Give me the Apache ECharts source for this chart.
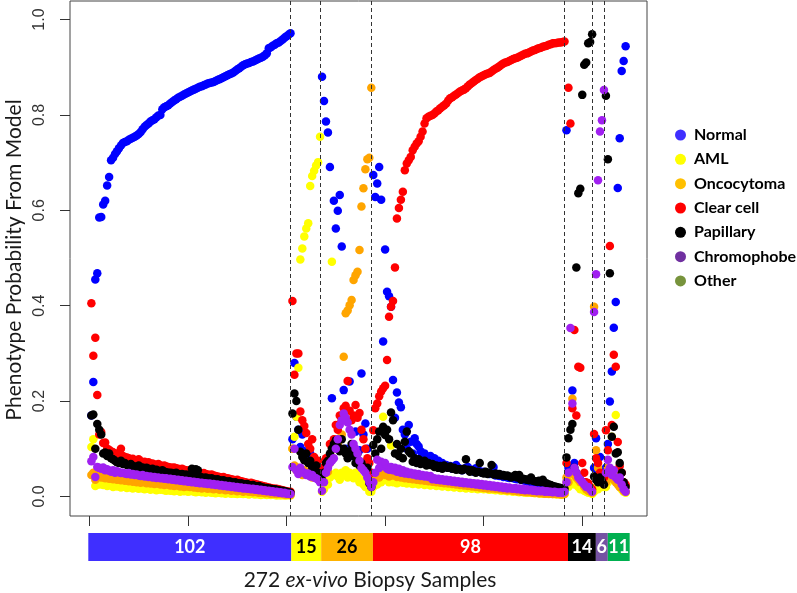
<!DOCTYPE html>
<html>
<head>
<meta charset="utf-8">
<script src="https://cdn.jsdelivr.net/npm/echarts@6/dist/echarts.min.js"></script>
<style>
html,body{margin:0;padding:0;background:#fff;}
#chart{width:797px;height:593px;}
</style>
</head>
<body>
<div id="chart"></div>
<script>
// ---- categories / groups ----
const groupNames = ['Normal','AML','Oncocytoma','Clear cell','Papillary','Chromophobe','Other'];
const groupCounts = [102,15,26,98,14,6,11];
const xTicks = [0,50,100,150,200,250];
const yTicks = [0,0.2,0.4,0.6,0.8,1.0];
const axisTitle = 'Phenotype Probability From Model';

// ---- per-sample model probabilities (272 samples, grouped by true phenotype) ----
const normal = [
 0.17,0.24,0.455,0.468,0.585,0.586,0.612,0.62,0.652,0.67,
 0.705,0.71,0.718,0.724,0.73,0.736,0.741,0.743,0.745,0.748,
 0.75,0.752,0.754,0.757,0.76,0.764,0.77,0.775,0.779,0.782,
 0.786,0.789,0.791,0.795,0.799,0.8,0.812,0.816,0.818,0.82,
 0.824,0.827,0.83,0.833,0.836,0.838,0.84,0.843,0.845,0.847,
 0.849,0.851,0.853,0.855,0.857,0.859,0.86,0.862,0.864,0.866,
 0.867,0.868,0.869,0.871,0.873,0.875,0.877,0.879,0.881,0.883,
 0.885,0.887,0.889,0.892,0.895,0.898,0.901,0.904,0.906,0.908,
 0.909,0.911,0.912,0.914,0.916,0.918,0.92,0.922,0.925,0.929,
 0.94,0.942,0.945,0.947,0.95,0.952,0.955,0.958,0.962,0.965,
 0.968,0.971,
 0.12,0.28,0.167,0.14,0.104,0.13,0.095,0.083,0.077,0.09,0.068,0.072,0.06,0.055,0.045,
 0.88,0.829,0.786,0.763,0.691,0.206,0.62,0.562,0.599,0.632,
 0.524,0.223,0.1,0.09,0.241,0.085,0.1,0.136,0.095,0.097,
 0.258,0.13,0.153,0.1,0.04,0.035,
 0.674,0.628,0.656,0.691,0.622,0.325,0.518,0.429,0.42,0.398,
 0.244,0.165,0.218,0.197,0.187,0.14,0.13,0.1,0.15,0.115,
 0.09,0.122,0.11,0.105,0.095,0.085,0.09,0.08,0.075,0.085,
 0.07,0.08,0.068,0.075,0.065,0.07,0.062,0.066,0.06,0.064,
 0.058,0.062,0.066,0.06,0.058,0.055,0.057,0.06,0.062,0.056,
 0.054,0.052,0.059,0.055,0.053,0.05,0.052,0.049,0.05,0.047,
 0.048,0.062,0.044,0.047,0.043,0.045,0.041,0.042,0.04,0.039,
 0.04,0.038,0.037,0.036,0.038,0.035,0.034,0.033,0.032,0.03,
 0.031,0.029,0.028,0.027,0.026,0.025,0.024,0.022,0.023,0.021,
 0.02,0.019,0.02,0.018,0.017,0.016,0.015,0.014,
 0.768,0.06,0.05,0.222,0.07,0.05,0.04,0.035,0.03,0.03,0.025,0.02,0.015,0.01,
 0.06,0.122,0.05,0.083,0.04,0.03,
 0.06,0.11,0.199,0.262,0.354,0.408,0.647,0.751,0.892,0.913,0.944
];
const aml = [
 0.104,0.12,0.022,0.03,0.025,0.028,0.024,0.026,0.022,0.025,
 0.023,0.02,0.024,0.021,0.023,0.019,0.022,0.02,0.018,0.021,
 0.019,0.017,0.02,0.018,0.016,0.019,0.017,0.015,0.018,0.016,
 0.014,0.017,0.015,0.013,0.016,0.014,0.015,0.013,0.012,0.014,
 0.012,0.013,0.011,0.013,0.012,0.01,0.012,0.011,0.013,0.01,
 0.011,0.012,0.01,0.009,0.011,0.01,0.009,0.01,0.008,0.01,
 0.009,0.008,0.009,0.007,0.009,0.008,0.007,0.008,0.006,0.008,
 0.007,0.006,0.007,0.006,0.005,0.007,0.006,0.005,0.006,0.005,
 0.004,0.006,0.005,0.004,0.005,0.004,0.003,0.005,0.004,0.003,
 0.004,0.003,0.004,0.003,0.002,0.003,0.002,0.003,0.002,0.002,
 0.003,0.002,
 0.1,0.125,0.167,0.27,0.497,0.52,0.545,0.562,0.573,0.651,0.672,0.683,0.694,0.701,0.754,
 0.01,0.015,0.03,0.025,0.04,0.492,0.045,0.05,0.042,0.035,
 0.05,0.045,0.055,0.04,0.05,0.045,0.038,0.05,0.042,0.03,
 0.035,0.025,0.02,0.03,0.01,0.01,
 0.02,0.03,0.025,0.035,0.03,0.167,0.04,0.035,0.03,0.107,
 0.03,0.032,0.028,0.03,0.033,0.029,0.031,0.027,0.03,0.028,
 0.026,0.029,0.027,0.025,0.028,0.026,0.024,0.027,0.025,0.023,
 0.026,0.024,0.022,0.025,0.023,0.021,0.024,0.022,0.02,0.023,
 0.021,0.019,0.022,0.02,0.018,0.021,0.019,0.017,0.02,0.018,
 0.016,0.019,0.017,0.015,0.018,0.016,0.015,0.017,0.015,0.014,
 0.016,0.014,0.013,0.015,0.013,0.012,0.014,0.012,0.011,0.013,
 0.011,0.01,0.012,0.01,0.009,0.011,0.009,0.008,0.01,0.008,
 0.009,0.008,0.007,0.008,0.007,0.006,0.007,0.006,0.006,0.005,
 0.006,0.005,0.005,0.004,0.005,0.004,0.004,0.005,
 0.03,0.02,0.035,0.04,0.025,0.03,0.02,0.015,0.02,0.012,0.01,0.008,0.01,0.005,
 0.01,0.02,0.015,0.025,0.02,0.03,
 0.02,0.03,0.04,0.125,0.05,0.171,0.03,0.02,0.015,0.01,0.008
];
const onco = [
 0.045,0.05,0.035,0.044,0.042,0.04,0.043,0.038,0.041,0.037,
 0.039,0.036,0.038,0.035,0.037,0.034,0.036,0.033,0.035,0.032,
 0.034,0.031,0.033,0.03,0.032,0.029,0.031,0.03,0.028,0.03,
 0.027,0.029,0.026,0.028,0.027,0.025,0.027,0.024,0.026,0.025,
 0.023,0.025,0.022,0.024,0.023,0.021,0.023,0.02,0.022,0.021,
 0.02,0.021,0.019,0.02,0.018,0.02,0.017,0.019,0.018,0.016,
 0.018,0.017,0.015,0.017,0.016,0.014,0.016,0.015,0.013,0.015,
 0.014,0.012,0.014,0.013,0.011,0.013,0.012,0.01,0.012,0.011,
 0.01,0.011,0.009,0.01,0.009,0.008,0.009,0.008,0.007,0.008,
 0.007,0.006,0.007,0.006,0.005,0.006,0.005,0.005,0.004,0.004,
 0.004,0.003,
 0.1,0.065,0.055,0.06,0.05,0.045,0.055,0.048,0.05,0.045,0.04,0.048,0.042,0.038,0.035,
 0.04,0.05,0.06,0.052,0.07,0.083,0.1,0.12,0.11,0.1,
 0.13,0.293,0.384,0.39,0.401,0.412,0.454,0.464,0.471,0.517,
 0.608,0.646,0.686,0.707,0.71,0.857,
 0.035,0.045,0.05,0.04,0.055,0.048,0.045,0.05,0.042,0.047,
 0.044,0.046,0.041,0.043,0.04,0.042,0.038,0.041,0.037,0.039,
 0.036,0.038,0.035,0.037,0.034,0.036,0.033,0.035,0.032,0.034,
 0.031,0.033,0.03,0.032,0.029,0.031,0.028,0.03,0.027,0.029,
 0.026,0.028,0.025,0.027,0.024,0.026,0.023,0.025,0.022,0.024,
 0.021,0.023,0.02,0.022,0.019,0.021,0.018,0.02,0.017,0.019,
 0.017,0.018,0.016,0.017,0.015,0.016,0.014,0.015,0.013,0.014,
 0.013,0.012,0.013,0.011,0.012,0.01,0.011,0.01,0.009,0.01,
 0.009,0.008,0.009,0.008,0.007,0.008,0.007,0.006,0.007,0.006,
 0.006,0.005,0.006,0.005,0.005,0.004,0.004,0.005,
 0.04,0.03,0.05,0.205,0.045,0.04,0.035,0.03,0.03,0.02,0.015,0.012,0.01,0.008,
 0.398,0.097,0.06,0.04,0.03,0.025,
 0.03,0.06,0.04,0.05,0.035,0.03,0.025,0.02,0.02,0.012,0.01
];
const clear = [
 0.405,0.295,0.333,0.213,0.13,0.135,0.112,0.113,0.1,0.098,
 0.095,0.093,0.09,0.088,0.091,0.1,0.085,0.083,0.082,0.08,
 0.078,0.079,0.076,0.075,0.078,0.074,0.072,0.073,0.07,0.072,
 0.068,0.069,0.067,0.066,0.068,0.065,0.064,0.065,0.063,0.062,
 0.061,0.06,0.061,0.059,0.058,0.057,0.058,0.056,0.055,0.054,
 0.055,0.053,0.052,0.051,0.05,0.049,0.048,0.049,0.047,0.046,
 0.045,0.046,0.044,0.043,0.042,0.041,0.04,0.041,0.039,0.038,
 0.037,0.036,0.035,0.034,0.035,0.033,0.032,0.031,0.03,0.029,
 0.028,0.029,0.027,0.026,0.025,0.024,0.023,0.022,0.021,0.02,
 0.019,0.018,0.017,0.016,0.016,0.015,0.014,0.013,0.012,0.011,
 0.01,0.01,
 0.41,0.255,0.3,0.3,0.178,0.16,0.148,0.133,0.11,0.1,0.12,0.083,0.07,0.075,0.06,
 0.05,0.06,0.08,0.07,0.11,0.104,0.12,0.15,0.14,0.17,
 0.16,0.185,0.19,0.242,0.18,0.16,0.17,0.192,0.165,0.175,
 0.14,0.12,0.1,0.08,0.07,0.05,
 0.139,0.185,0.195,0.21,0.22,0.227,0.232,0.286,0.377,0.398,
 0.41,0.48,0.583,0.605,0.622,0.639,0.684,0.698,0.705,0.712,
 0.726,0.733,0.74,0.745,0.754,0.765,0.782,0.793,0.796,0.798,
 0.8,0.803,0.807,0.81,0.814,0.817,0.82,0.824,0.83,0.835,
 0.837,0.84,0.843,0.846,0.849,0.851,0.853,0.856,0.86,0.864,
 0.867,0.87,0.873,0.876,0.879,0.881,0.883,0.885,0.887,0.888,
 0.891,0.894,0.897,0.899,0.902,0.905,0.908,0.91,0.911,0.913,
 0.915,0.917,0.919,0.92,0.922,0.924,0.926,0.928,0.929,0.931,
 0.933,0.935,0.936,0.938,0.94,0.941,0.943,0.944,0.945,0.947,
 0.948,0.95,0.95,0.951,0.952,0.952,0.953,0.954,
 0.07,0.857,0.782,0.185,0.349,0.17,0.272,0.27,0.07,0.05,0.03,0.028,0.02,0.015,
 0.131,0.08,0.07,0.05,0.045,0.04,
 0.139,0.097,0.525,0.15,0.297,0.272,0.114,0.064,0.05,0.03,0.025
];
const pap = [
 0.17,0.172,0.1,0.152,0.14,0.13,0.09,0.092,0.085,0.09,
 0.08,0.078,0.075,0.072,0.07,0.075,0.068,0.07,0.066,0.065,
 0.068,0.064,0.063,0.062,0.065,0.06,0.061,0.059,0.06,0.058,
 0.057,0.058,0.055,0.056,0.054,0.053,0.055,0.052,0.051,0.05,
 0.05,0.049,0.048,0.05,0.047,0.046,0.047,0.045,0.046,0.044,
 0.045,0.058,0.043,0.057,0.055,0.042,0.04,0.039,0.04,0.038,
 0.037,0.038,0.036,0.035,0.036,0.034,0.033,0.034,0.032,0.031,
 0.032,0.03,0.029,0.03,0.028,0.027,0.028,0.026,0.025,0.026,
 0.024,0.023,0.024,0.022,0.021,0.022,0.02,0.019,0.018,0.018,
 0.017,0.016,0.015,0.015,0.014,0.013,0.012,0.012,0.011,0.01,
 0.009,0.008,
 0.174,0.216,0.2,0.14,0.094,0.083,0.076,0.09,0.07,0.075,0.062,0.058,0.065,0.05,0.045,
 0.035,0.05,0.07,0.075,0.09,0.1,0.11,0.118,0.105,0.095,
 0.12,0.1,0.09,0.08,0.095,0.11,0.085,0.07,0.09,0.065,
 0.07,0.062,0.055,0.06,0.028,0.02,
 0.108,0.09,0.12,0.136,0.1,0.146,0.129,0.14,0.12,0.176,
 0.16,0.09,0.11,0.085,0.1,0.08,0.115,0.136,0.095,0.09,
 0.073,0.08,0.07,0.078,0.068,0.072,0.075,0.065,0.07,0.066,
 0.068,0.062,0.065,0.06,0.064,0.058,0.065,0.062,0.06,0.063,
 0.058,0.06,0.056,0.057,0.057,0.055,0.058,0.078,0.056,0.052,
 0.055,0.053,0.05,0.052,0.07,0.05,0.048,0.052,0.047,0.05,
 0.066,0.046,0.048,0.045,0.047,0.044,0.045,0.043,0.044,0.042,
 0.04,0.042,0.045,0.04,0.045,0.035,0.037,0.036,0.035,0.034,
 0.04,0.033,0.032,0.031,0.033,0.03,0.035,0.029,0.027,0.025,
 0.024,0.022,0.021,0.02,0.019,0.018,0.017,0.016,
 0.082,0.122,0.14,0.152,0.06,0.48,0.636,0.645,0.842,0.905,0.91,0.95,0.953,0.969,
 0.042,0.035,0.03,0.04,0.032,0.025,
 0.84,0.707,0.468,0.125,0.146,0.09,0.093,0.07,0.05,0.03,0.02
];
const chromo = [
 0.074,0.083,0.041,0.062,0.06,0.058,0.061,0.055,0.057,0.054,
 0.052,0.055,0.05,0.053,0.051,0.049,0.05,0.048,0.047,0.049,
 0.046,0.047,0.045,0.046,0.044,0.043,0.045,0.042,0.043,0.041,
 0.042,0.04,0.041,0.039,0.04,0.038,0.039,0.037,0.038,0.036,
 0.037,0.035,0.036,0.034,0.035,0.033,0.034,0.032,0.033,0.031,
 0.032,0.03,0.031,0.029,0.03,0.028,0.029,0.027,0.028,0.026,
 0.027,0.025,0.026,0.024,0.025,0.023,0.024,0.022,0.023,0.021,
 0.022,0.02,0.021,0.019,0.02,0.018,0.019,0.017,0.018,0.016,
 0.017,0.015,0.016,0.014,0.015,0.013,0.014,0.012,0.013,0.011,
 0.012,0.01,0.011,0.009,0.01,0.008,0.009,0.007,0.008,0.006,
 0.006,0.005,
 0.062,0.1,0.055,0.047,0.06,0.052,0.05,0.045,0.048,0.042,0.045,0.04,0.038,0.035,0.03,
 0.012,0.03,0.05,0.06,0.07,0.075,0.08,0.1,0.12,0.15,
 0.16,0.174,0.165,0.155,0.14,0.13,0.11,0.1,0.09,0.075,
 0.06,0.055,0.05,0.04,0.03,0.02,
 0.03,0.05,0.077,0.06,0.073,0.065,0.07,0.058,0.056,0.062,
 0.055,0.06,0.052,0.058,0.05,0.055,0.048,0.052,0.047,0.05,
 0.046,0.048,0.044,0.047,0.043,0.045,0.042,0.044,0.041,0.043,
 0.036,0.038,0.035,0.037,0.034,0.036,0.033,0.035,0.032,0.034,
 0.031,0.033,0.03,0.032,0.029,0.031,0.028,0.03,0.027,0.029,
 0.026,0.028,0.025,0.027,0.024,0.026,0.023,0.025,0.022,0.024,
 0.021,0.023,0.02,0.022,0.019,0.021,0.018,0.02,0.017,0.019,
 0.017,0.016,0.018,0.015,0.017,0.014,0.016,0.013,0.015,0.013,
 0.014,0.012,0.013,0.011,0.012,0.011,0.012,0.01,0.011,0.01,
 0.01,0.009,0.01,0.009,0.008,0.009,0.008,0.01,
 0.03,0.05,0.353,0.195,0.06,0.05,0.04,0.035,0.03,0.025,0.02,0.02,0.015,0.01,
 0.387,0.466,0.663,0.765,0.789,0.852,
 0.05,0.077,0.06,0.045,0.055,0.04,0.035,0.04,0.025,0.015,0.01
];

// ---- styles ----
const pointColors = ['#0000FF','#FFFF00','#FFA500','#FF0000','#000000','#A020F0','#6B8E23'];
const legendColors = ['#3F2FFF','#FFFF00','#FFC000','#FF0000','#000000','#7030A0','#77933C'];
const barColors = ['#3F2FFF','#FFFF00','#FFB300','#FF0000','#000000','#7552A3','#00B050'];
const barLabelColors = ['#fff','#000','#000','#fff','#fff','#fff','#fff'];

const seriesValues = [normal, aml, onco, clear, pap, chromo, []];
const boundaries = [];
groupCounts.slice(0, -1).reduce((acc, c) => { boundaries.push(acc + c); return acc + c; }, 0);

const chart = echarts.init(document.getElementById('chart'), null, {renderer: 'canvas'});

const scatterSeries = groupNames.map((name, k) => ({
  type: 'scatter',
  name: name,
  xAxisIndex: 0, yAxisIndex: 0,
  symbol: 'circle',
  symbolSize: 8.5,
  itemStyle: {color: pointColors[k], opacity: 1},
  emphasis: {disabled: true},
  data: seriesValues[k].map((v, i) => [i + 1, v]),
  markLine: k === 0 ? {
    silent: true, symbol: ['none', 'none'],
    label: {show: false},
    lineStyle: {type: [4, 3], color: '#333', width: 1},
    data: boundaries.map(b => ({xAxis: b}))
  } : undefined
}));

const barSeries = groupNames.map((name, k) => ({
  type: 'bar',
  name: 'count-' + name,
  xAxisIndex: 1, yAxisIndex: 1,
  stack: 'samples',
  barWidth: '100%',
  data: [groupCounts[k]],
  itemStyle: {color: barColors[k]},
  label: {show: true, position: 'inside', formatter: '{c}', color: barLabelColors[k],
          fontWeight: 'bold', fontSize: 18, fontFamily: 'Lato'},
  emphasis: {disabled: true}
}));

const warn = [normal, aml, onco, clear, pap, chromo].some(a => a.length !== 272);

chart.setOption({
  animation: false,
  backgroundColor: '#fff',
  grid: [
    {left: 70, top: 1, width: 577, height: 515, show: true, borderColor: '#444', borderWidth: 1, backgroundColor: 'transparent'},
    {left: 88.3, top: 533, width: 541.4, height: 28}
  ],
  xAxis: [
    {gridIndex: 0, type: 'value', min: -9.84, max: 282.84, position: 'bottom',
     axisLine: {show: false, onZero: false}, splitLine: {show: false},
     axisTick: {show: true, inside: false, length: 10, customValues: xTicks, lineStyle: {color: '#333'}},
     axisLabel: {show: false}},
    {gridIndex: 1, type: 'value', min: 0, max: 272, show: false}
  ],
  yAxis: [
    {gridIndex: 0, type: 'value', min: -0.0409, max: 1.0388, position: 'left',
     axisLine: {show: false, onZero: false}, splitLine: {show: false},
     axisTick: {show: true, inside: false, length: 10, customValues: yTicks, lineStyle: {color: '#333'}},
     axisLabel: {customValues: yTicks, rotate: 90, margin: 22, formatter: v => v.toFixed(1),
                 fontSize: 16, color: '#333', fontFamily: 'Liberation Sans'}},
    {gridIndex: 1, type: 'category', data: ['samples'], show: false}
  ],
  legend: {
    orient: 'vertical', left: 670, top: 120,
    icon: 'circle', itemWidth: 11, itemHeight: 11, itemGap: 4.33,
    textStyle: {fontFamily: 'Lato', fontWeight: 'bold', fontSize: 16, color: '#000', lineHeight: 20, padding: [0,0,0,3]},
    selectedMode: false,
    data: groupNames.map((n, k) => ({name: n, itemStyle: {color: legendColors[k]}}))
  },
  graphic: [
    {type: 'text', x: 14, y: 260, rotation: Math.PI / 2,
     style: {text: axisTitle, fontFamily: 'Lato', fontSize: 21, fill: '#1a1a1a', align: 'center', verticalAlign: 'middle'}},
    {type: 'text', x: 370, y: 580,
     style: {text: '272 {i|ex-vivo} Biopsy Samples', fontFamily: 'Lato', fontSize: 21, fill: '#1a1a1a',
             align: 'center', verticalAlign: 'middle',
             rich: {i: {fontStyle: 'italic', fontFamily: 'Lato', fontSize: 21, fill: '#1a1a1a'}}}},
    warn ? {type: 'text', left: 300, top: 200, style: {text: 'LENGTH ERROR', fontSize: 30, fill: 'red'}} : {type: 'group'}
  ],
  series: scatterSeries.concat(barSeries)
});
</script>
</body>
</html>
